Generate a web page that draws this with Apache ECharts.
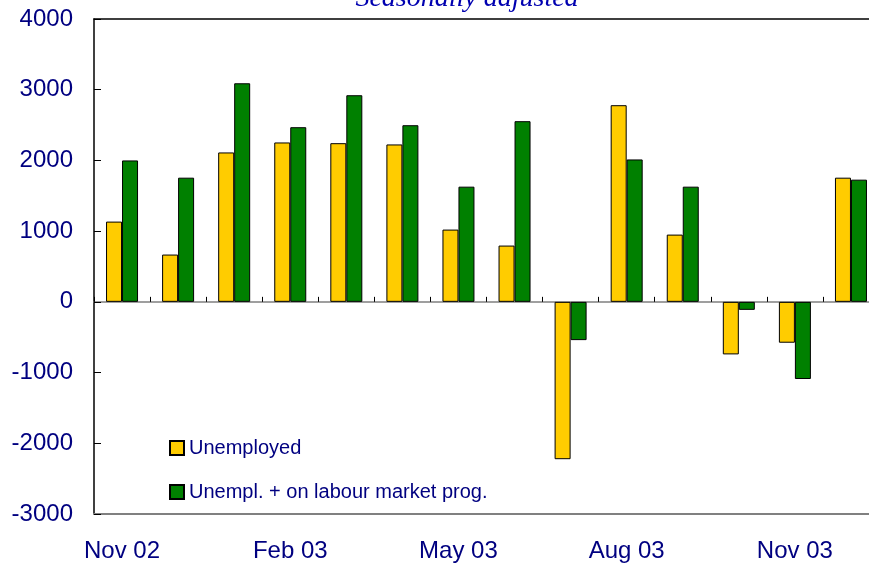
<!DOCTYPE html>
<html>
<head>
<meta charset="utf-8">
<script src="https://cdn.jsdelivr.net/npm/echarts@6/dist/echarts.min.js"></script>
<style>
  html, body { margin: 0; padding: 0; background: #fff; overflow: hidden; }
  /* plot runs a little past the right edge of the window, as in the original */
  #main { width: 882px; height: 567px; }
</style>
</head>
<body>
<div id="main"></div>
<script>
// months on the x axis
const months = ['Nov 02', 'Dec 02', 'Jan 03', 'Feb 03', 'Mar 03', 'Apr 03', 'May 03',
  'Jun 03', 'Jul 03', 'Aug 03', 'Sep 03', 'Oct 03', 'Nov 03', 'Dec 03'];
// only every third month gets a label
const shownLabels = ['Nov 02', 'Feb 03', 'May 03', 'Aug 03', 'Nov 03'];

const unemployed = [1135, 669, 2113, 2254, 2244, 2226, 1022, 796, -2225, 2781, 951, -743, -578, 1756];
const unemplPlusProg = [2000, 1756, 3091, 2470, 2922, 2498, 1629, 2555, -541, 2014, 1629, -113, -1091, 1728];

const navy = '#000080';
const labelFont = 'Liberation Sans, Arial, sans-serif';

var myChart = echarts.init(document.getElementById('main'));

var option = {
  animation: false,
  title: {
    text: 'Seasonally adjusted',
    left: 462,
    textAlign: 'center',
    top: -20,
    textStyle: {
      fontFamily: 'Liberation Serif, Times New Roman, serif',
      fontStyle: 'italic',
      fontWeight: 'normal',
      fontSize: 28,
      color: '#0000b0'
    }
  },
  legend: {
    orient: 'vertical',
    left: 164,
    top: 433,
    itemWidth: 14,
    itemHeight: 14,
    itemGap: 24,
    icon: 'rect',
    data: ['Unemployed', 'Unempl. + on labour market prog.'],
    textStyle: { fontFamily: labelFont, fontSize: 20, color: navy }
  },
  grid: {
    left: 94,
    width: 785,
    top: 19,
    bottom: 53,
    containLabel: false
  },
  xAxis: [
    {
      // bottom axis: carries the labels
      type: 'category',
      data: months,
      position: 'bottom',
      axisLine: { onZero: false, lineStyle: { color: '#808080', width: 2 } },
      axisTick: { show: false },
      axisLabel: {
        interval: 0,
        margin: 25,
        fontFamily: labelFont,
        fontSize: 24,
        color: navy,
        formatter: v => shownLabels.includes(v) ? v : ''
      }
    },
    {
      // zero line with tick marks between months
      type: 'category',
      data: months,
      position: 'bottom',
      axisLine: { onZero: true, lineStyle: { color: '#808080', width: 1.5 } },
      axisTick: { show: true, inside: true, length: 5, lineStyle: { color: '#000', width: 1 } },
      axisLabel: { show: false }
    },
    {
      // top frame line
      type: 'category',
      data: months,
      position: 'top',
      axisLine: { lineStyle: { color: '#000', width: 1.5 } },
      axisTick: { show: false },
      axisLabel: { show: false }
    }
  ],
  yAxis: {
    type: 'value',
    min: -3000,
    max: 4000,
    interval: 1000,
    splitLine: { show: false },
    axisLine: { show: true, lineStyle: { color: '#000', width: 1.5 } },
    axisTick: { show: true, inside: true, length: 7, lineStyle: { color: '#000' } },
    axisLabel: {
      margin: 21,
      fontFamily: labelFont,
      fontSize: 24,
      color: navy,
      formatter: v => String(v)
    }
  },
  series: [
    {
      name: 'Unemployed',
      type: 'bar',
      xAxisIndex: 0,
      data: unemployed,
      barWidth: 16,
      barGap: '0%',
      itemStyle: { color: '#FFCC00', borderColor: '#000', borderWidth: 1 }
    },
    {
      name: 'Unempl. + on labour market prog.',
      type: 'bar',
      xAxisIndex: 0,
      data: unemplPlusProg,
      barWidth: 16,
      barGap: '0%',
      itemStyle: { color: '#008000', borderColor: '#000', borderWidth: 1 }
    }
  ]
};

myChart.setOption(option);
</script>
</body>
</html>
